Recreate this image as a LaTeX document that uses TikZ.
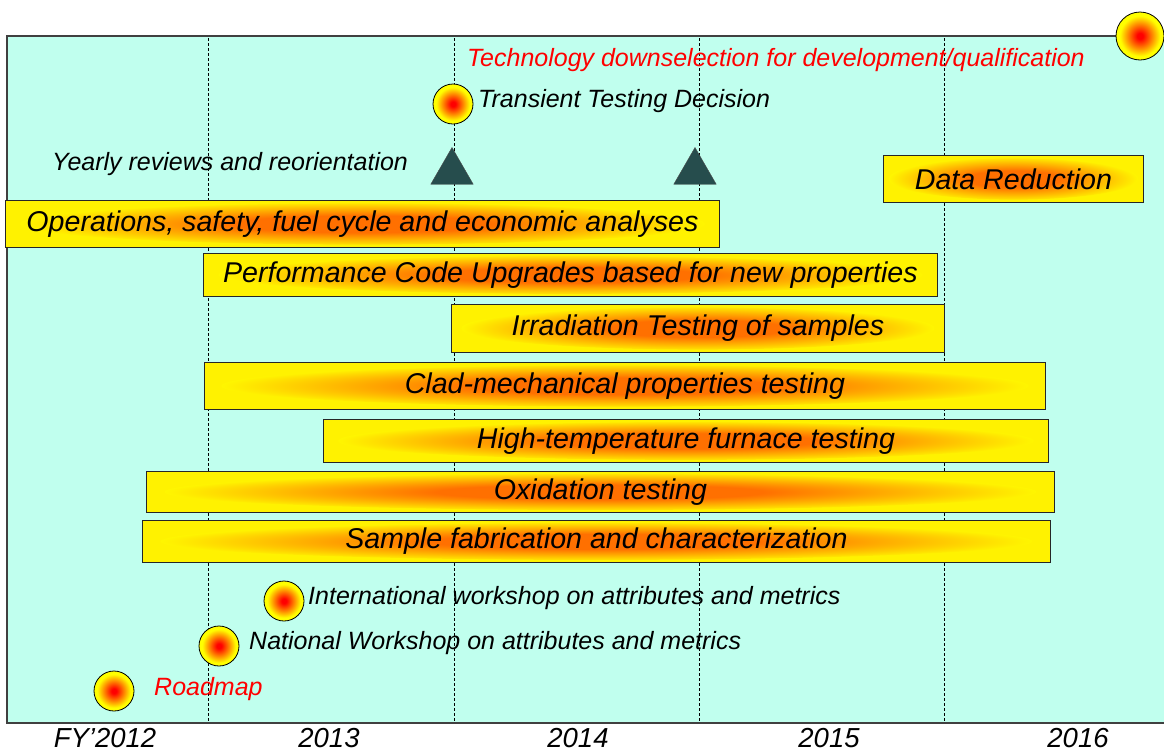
\documentclass[tikz,border=0pt]{standalone}
\usepackage{fontspec}
\setmainfont{Liberation Sans}
\usetikzlibrary{shapes.geometric}

\definecolor{bgmint}{RGB}{192,255,238}
\definecolor{framegray}{RGB}{64,64,64}
\definecolor{slate}{RGB}{38,77,77}
\definecolor{barorange}{RGB}{255,112,0}

\pgfdeclareradialshading{barglow}{\pgfpoint{0bp}{0bp}}{color(0bp)=(barorange); color(9bp)=(barorange); color(25bp)=(yellow); color(50bp)=(yellow)}
\pgfdeclareradialshading{dotglow}{\pgfpoint{0bp}{0bp}}{color(0bp)=(red); color(3bp)=(red); color(21bp)=(yellow); color(50bp)=(yellow)}

\begin{document}
\begin{tikzpicture}[x=1pt,y=-1pt,
    bar/.style 2 args={draw=black!85, line width=0.9pt, fill=yellow, inner sep=0pt,
      anchor=north west, minimum width=#1pt, minimum height=#2pt,
      font=\fontsize{28.6}{32}\selectfont\itshape,
      path picture={\shade[shading=barglow] (path picture bounding box.center)
        ellipse [x radius={0.48pt*#1}, y radius={0.44pt*#2}];}},
    dot/.style={circle, draw=black, line width=0.8pt, shading=dotglow,
      minimum size=40pt, inner sep=0pt},
    note/.style={anchor=west, inner sep=0pt, font=\fontsize{25}{29}\selectfont\itshape},
    year/.style={inner sep=0pt, font=\fontsize{27.5}{31}\selectfont\itshape},
    review/.style={regular polygon, regular polygon sides=3, fill=slate,
      draw=black!70, minimum size=49pt, inner sep=0pt},
    yearline/.style={line width=0.8pt, dash pattern=on 3pt off 2pt}]
  \useasboundingbox (0,0) rectangle (1164,753);

  % chart area
  \draw[framegray, line width=2pt, fill=bgmint] (7,36) rectangle (1170,723);
  \foreach \x/\n in {208/a, 454/b, 699/c, 944/d} {
    \coordinate (top\n) at (\x,38);
    \coordinate (bot\n) at (\x,722);
    \draw[yearline] (top\n) -- (bot\n);
  }

  % milestones and notes
  \node[note, text=red] (downsellbl) at (467,60) {Technology downselection for development/qualification};
  \node[note] (transientlbl) at (478,101) {Transient Testing Decision};
  \node[note] (reviewlbl) at (52,164) {Yearly reviews and reorientation};
  \node[note] (intwslbl) at (308,598) {International workshop on attributes and metrics};
  \node[note] (natwslbl) at (249,643) {National Workshop on attributes and metrics};
  \node[note, text=red] (roadmaplbl) at (154,689) {Roadmap};

  % activities
  \node[bar={260}{47}] (data) at (883,155) {Data Reduction};
  \node[bar={714}{47}] (ops) at (5,200) {Operations, safety, fuel cycle and economic analyses};
  \node[bar={734}{43}] (code) at (203,253) {Performance Code Upgrades based for new properties};
  \node[bar={493}{48}] (irr) at (451,304) {Irradiation Testing of samples};
  \node[bar={841}{47}] (clad) at (204,362) {Clad-mechanical properties testing};
  \node[bar={725}{43}] (furn) at (323,419) {High-temperature furnace testing};
  \node[bar={908}{41}] (oxid) at (146,471) {Oxidation testing};
  \node[bar={908}{42}] (fab) at (142,520) {Sample fabrication and characterization};

  \node[dot, minimum size=48pt] (downsel) at (1140,36) {};
  \node[dot] (transient) at (453,104) {};
  \node[dot] (intws) at (284,601) {};
  \node[dot] (natws) at (219,646) {};
  \node[dot] (roadmap) at (114,691) {};

  \node[review] (rev1) at (452,172) {};
  \node[review] (rev2) at (695,172) {};

  % fiscal years
  \node[year] (fy12) at (105,738) {FY’2012};
  \node[year] (fy13) at (329,738) {2013};
  \node[year] (fy14) at (578,738) {2014};
  \node[year] (fy15) at (829,738) {2015};
  \node[year] (fy16) at (1078,738) {2016};
\end{tikzpicture}
\end{document}
